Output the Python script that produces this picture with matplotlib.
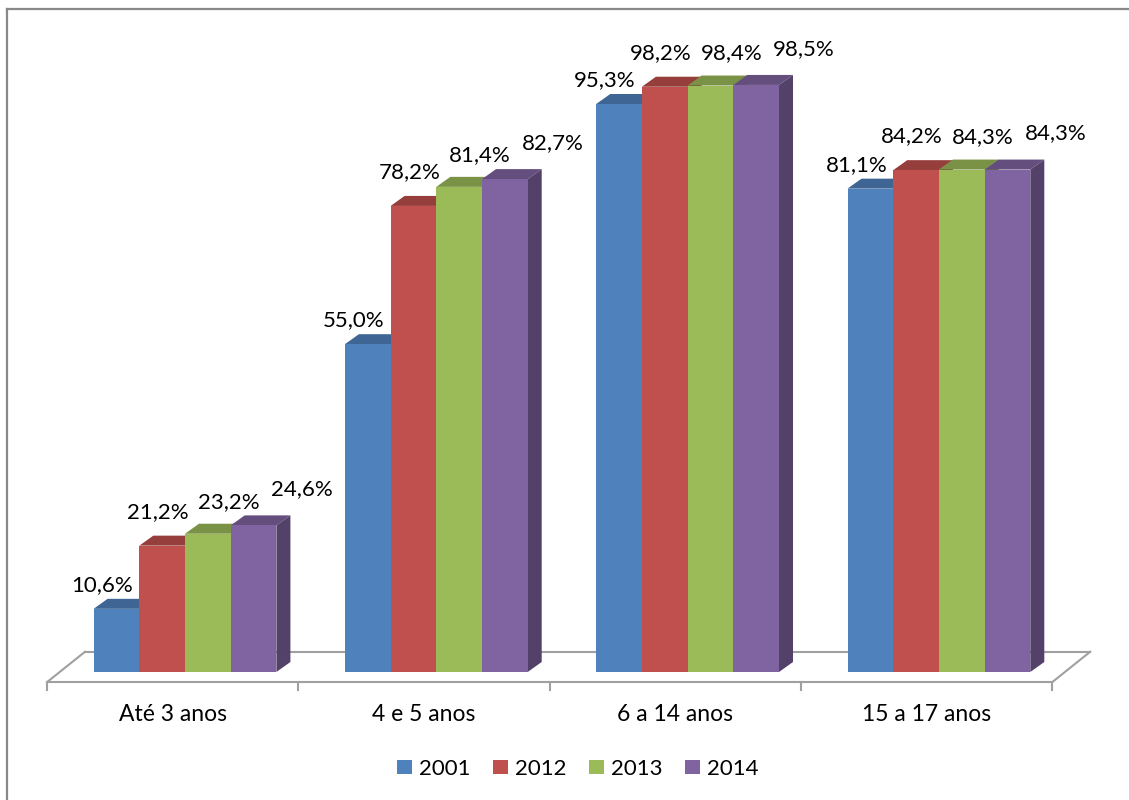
import matplotlib
matplotlib.use("Agg")
import matplotlib.pyplot as plt
from matplotlib.patches import Polygon, Patch
from matplotlib.lines import Line2D
from matplotlib.colors import to_rgb

categories = ["Até 3 anos", "4 e 5 anos", "6 a 14 anos", "15 a 17 anos"]
years = ["2001", "2012", "2013", "2014"]
v2001 = [10.6, 55.0, 95.3, 81.1]
v2012 = [21.2, 78.2, 98.2, 84.2]
v2013 = [23.2, 81.4, 98.4, 84.3]
v2014 = [24.6, 82.7, 98.5, 84.3]
series = [v2001, v2012, v2013, v2014]
colors = ["#4F81BD", "#C0504D", "#9BBB59", "#8064A2"]

plt.rcParams["font.family"] = ["Lato", "DejaVu Sans"]

W, H = 1129, 800
fig = plt.figure(figsize=(W / 100, H / 100), dpi=100)
ax = fig.add_axes([0, 0, 1, 1])
PX_X = 251.3   # pixels per group unit
PX_Y = 5.96    # pixels per percent
ax.set_xlim(-185 / PX_X, (W - 185) / PX_X)
ax.set_ylim((672 - H) / PX_Y, 672 / PX_Y)
ax.axis("off")

w = 45.7 / PX_X
dx = 14 / PX_X
dy = 10 / PX_Y


def shade(c, f):
    r, g, b = to_rgb(c)
    return (r * f, g * f, b * f)


# floor
shift = -0.049
yf, yb = -1.7, 3.4
fl, fr = -0.5 + shift, 3.5 + shift
bl, br = fl + 38 / PX_X, fr + 38 / PX_X
floor_c = "#A0A0A0"
ax.plot([bl, br], [yb, yb], color=floor_c, lw=1.5, zorder=1)
ax.plot([fl, bl], [yf, yb], color=floor_c, lw=1.5, zorder=1)
ax.plot([fr, br], [yf, yb], color=floor_c, lw=1.5, zorder=1)
ax.plot([fl, fr], [yf, yf], color=floor_c, lw=1.5, zorder=100)
for k in range(5):
    ax.plot([fl + k, fl + k], [yf, -3.0], color=floor_c, lw=1.5, zorder=100)

# bars with 3D faces
off_x = [-14, -4, 21, 48]
off_y = [24, 34, 32, 36]
for i in range(len(categories)):
    for j, vals in enumerate(series):
        v = vals[i]
        c = colors[j]
        z = 10 + i * 10 + j * 2
        left = i - 2 * w + j * w
        ax.bar(left, v, width=w, align="edge", color=c, zorder=z + 1, linewidth=0)
        top = Polygon([(left, v), (left + w, v), (left + w + dx, v + dy), (left + dx, v + dy)],
                      closed=True, facecolor=shade(c, 0.78), edgecolor="none", zorder=z)
        side = Polygon([(left + w, 0), (left + w + dx, dy), (left + w + dx, v + dy), (left + w, v)],
                       closed=True, facecolor=shade(c, 0.65), edgecolor="none", zorder=z)
        ax.add_patch(top)
        ax.add_patch(side)
        ax.text(left + w / 2 + off_x[j] / PX_X, v + off_y[j] / PX_Y,
                f"{v:.1f}%".replace(".", ","), ha="center", va="center",
                fontsize=16, color="black", zorder=200)

for i, cat in enumerate(categories):
    ax.text(i + shift, -7.2, cat, ha="center", va="center", fontsize=16.5, color="black")

# border
bc = "#888888"
fig.add_artist(Line2D([6.5 / W, 6.5 / W], [0, 1 - 9 / H], color=bc, lw=1.6, transform=fig.transFigure))
fig.add_artist(Line2D([6.5 / W, 1], [1 - 9 / H, 1 - 9 / H], color=bc, lw=1.6, transform=fig.transFigure))

handles = [Patch(facecolor=c, edgecolor="none") for c in colors]
fig.legend(handles, years, loc="center", bbox_to_anchor=(0.512, 0.039), ncol=4, frameon=False,
           handlelength=0.65, handleheight=0.65, handletextpad=0.35, columnspacing=1.0, fontsize=16)

fig.savefig("out.png", dpi=100)
